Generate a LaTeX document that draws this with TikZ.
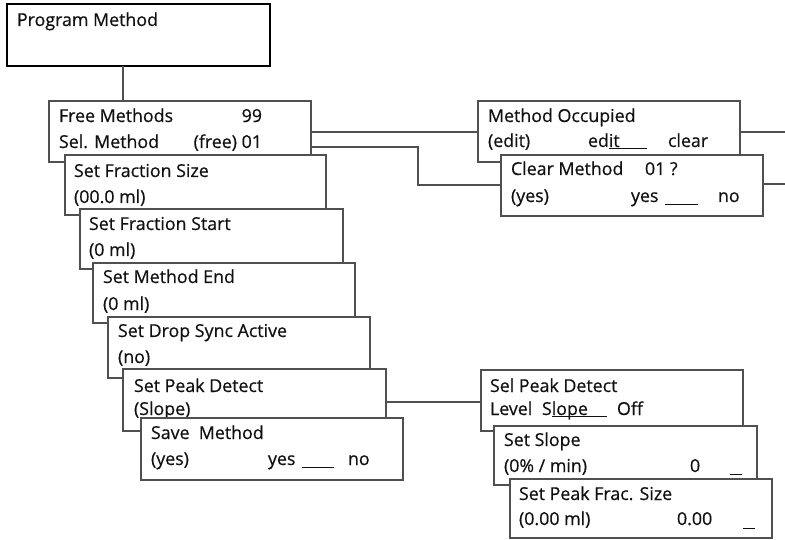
\documentclass[tikz,border=0pt]{standalone}
\usepackage{fontspec}
\setmainfont{Open Sans}[FakeBold=0.5]
\definecolor{linegray}{HTML}{505050}
\definecolor{txt}{HTML}{111111}
\begin{document}
\begin{tikzpicture}[x=1pt,y=-1pt,
  bx/.style={draw=linegray,line width=1.3pt,fill=white,inner sep=0pt,outer sep=0pt,anchor=north west,minimum width=262pt,minimum height=61pt},
  ln/.style={draw=linegray,line width=1.3pt},
  tx/.style={anchor=base west,inner sep=0pt,outer sep=0pt,text=txt,font=\fontsize{17.8}{20}\selectfont},
  txr/.style={tx,anchor=base east},
  ul/.style={draw=txt,line width=0.9pt}]
\useasboundingbox (0,0) rectangle (785,540);
\fill[white] (0,0) rectangle (785,540);

% Program Method
\node[draw=black,line width=2.6pt,fill=white,inner sep=0pt,outer sep=0pt,anchor=north west,minimum width=263pt,minimum height=62pt] (pm) at (7,4) {};
\node[tx] (pmt) at (17,26) {Program Method};

% connector pm -> fm
\coordinate (c0) at (123,0);

% Free Methods
\node[bx] (fm) at (49,101) {};
\draw[ln] (pm.south -| c0) -- (fm.north -| c0);
\node[tx] (fm1) at (59,122) {Free Methods};
\node[txr] (fm1b) at (262,122) {99};
\node[tx] (fm2) at (59,148) {Sel. Method};
\node[txr] (fm2b) at (262,148) {(free) 01};

% Set Fraction Size
\node[bx,minimum width=261pt,minimum height=60pt] (sfs) at (65,155) {};
\node[tx] (sfs1) at (74,177) {Set Fraction Size};
\node[tx] (sfs2) at (74,203) {(00.0 ml)};

% Set Fraction Start
\node[bx,minimum width=263pt,minimum height=60pt] (sfst) at (80,209) {};
\node[tx] (sfst1) at (89,230) {Set Fraction Start};
\node[tx] (sfst2) at (89,256) {(0 ml)};

% Set Method End
\node[bx,minimum width=262pt,minimum height=60pt] (sme) at (93,263) {};
\node[tx] (sme1) at (103,283) {Set Method End};
\node[tx] (sme2) at (103,310) {(0 ml)};

% Set Drop Sync Active
\node[bx,minimum width=262pt,minimum height=61pt] (sds) at (108,317) {};
\node[tx] (sds1) at (118,337) {Set Drop Sync Active};
\node[tx] (sds2) at (118,363) {(no)};

% Set Peak Detect
\node[bx,minimum width=263pt,minimum height=62pt] (spd) at (123,369) {};
\node[tx] (spd1) at (134,392) {Set Peak Detect};
\node[tx] (spd2) at (134,415) {(Slope)};

% Save Method
\node[bx,minimum width=262pt,minimum height=62pt] (sm) at (141,418) {};
\node[tx] (sm1) at (151,439) {Save\ \ Method};
\node[tx] (sm2) at (151,465) {(yes)};
\node[tx] (sm3) at (268,465) {yes};
\coordinate (smu1) at (302,467);
\coordinate (smu2) at (334,467);
\draw[ul] (smu1) -- (smu2);
\node[tx] (sm4) at (348,465) {no};

% Method Occupied
\node[bx] (mo) at (478,101) {};
\node[tx] (mo1) at (488,122) {Method Occupied};
\node[tx] (mo2) at (488,147) {(edit)};
\node[tx] (mo3) at (588,147) {ed\rlap{\rule[-2.2pt]{38pt}{0.9pt}}it};
\node[tx] (mo4) at (668,147) {clear};

% Clear Method
\node[bx,minimum width=262pt,minimum height=61pt] (cm) at (501,155) {};
\node[tx] (cm1) at (511,175) {Clear Method};
\node[tx] (cm1b) at (645,175) {01 ?};
\node[tx] (cm2) at (511,202) {(yes)};
\node[tx] (cm3) at (631,202) {yes};
\coordinate (cmu1) at (665,204);
\coordinate (cmu2) at (698,204);
\draw[ul] (cmu1) -- (cmu2);
\node[tx] (cm4) at (718,202) {no};

% connectors top
\coordinate (y1) at (0,132);
\coordinate (y2) at (0,147);
\coordinate (x2) at (418,0);
\coordinate (y3) at (0,185);
\draw[ln] (fm.east |- y1) -- (mo.west |- y1);
\draw[ln] (fm.east |- y2) -- (x2 |- y2) -- (x2 |- y3) -- (cm.west |- y3);
\coordinate (e1) at (785,132);
\coordinate (e2) at (785,184);
\draw[ln] (mo.east |- e1) -- (e1);
\draw[ln] (cm.east |- e2) -- (e2);

% Sel Peak Detect
\node[bx,minimum width=262pt,minimum height=61pt] (spk) at (481,370) {};
\node[tx] (spk1) at (490,392) {Sel Peak Detect};
\node[tx] (spk2) at (490,415) {Level};
\node[tx] (spk3) at (542,415) {S\rlap{\rule[-2.2pt]{55pt}{0.9pt}}lope};
\node[tx] (spk4) at (617,415) {Off};
\coordinate (y4) at (0,402);
\draw[ln] (spd.east |- y4) -- (spk.west |- y4);

% Set Slope
\node[bx,minimum width=263pt,minimum height=59pt] (ss) at (494,426) {};
\node[tx] (ss1) at (504,446) {Set Slope};
\node[tx] (ss2) at (504,472) {(0\% / min)};
\node[tx] (ss3) at (690,472) {0};
\coordinate (ssu1) at (730,474);
\coordinate (ssu2) at (742,474);
\draw[ul] (ssu1) -- (ssu2);

% Set Peak Frac. Size
\node[bx,minimum width=262pt,minimum height=59pt] (spf) at (510,479) {};
\node[tx] (spf1) at (519,500) {Set Peak Frac. Size};
\node[tx] (spf2) at (519,525) {(0.00 ml)};
\node[tx] (spf3) at (677,525) {0.00};
\coordinate (spfu1) at (743,528);
\coordinate (spfu2) at (755,528);
\draw[ul] (spfu1) -- (spfu2);
\end{tikzpicture}
\end{document}
